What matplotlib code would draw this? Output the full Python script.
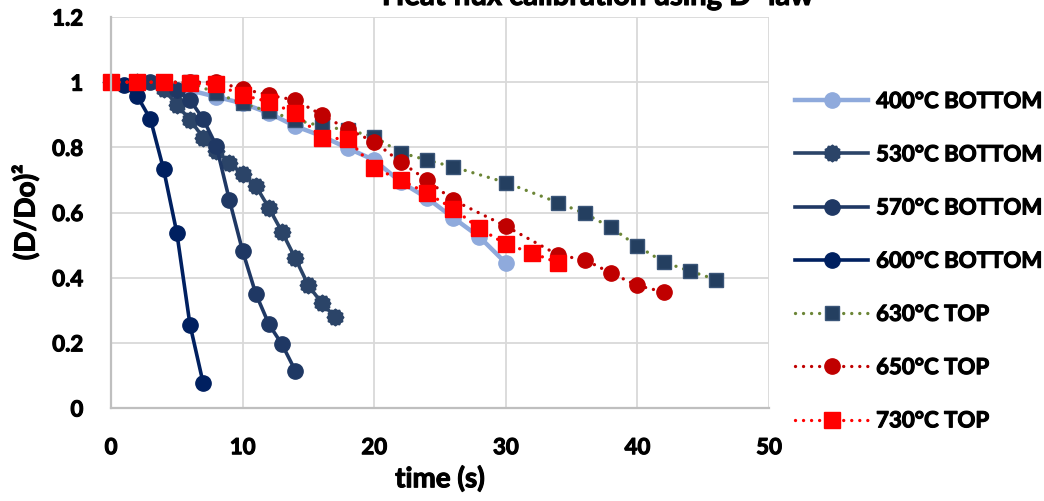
import matplotlib
matplotlib.use("Agg")
import matplotlib.pyplot as plt
import matplotlib.patheffects as pe
from matplotlib.path import Path
import numpy as np

# ---- data: normalised squared droplet diameter vs time ----
t_400 = [0, 2, 4, 6, 8, 10, 12, 14, 16, 18, 20, 22, 24, 26, 28, 30]
d_400 = [1.0, 0.997, 0.985, 0.975, 0.955, 0.935, 0.905, 0.865, 0.835, 0.797,
         0.761, 0.694, 0.645, 0.584, 0.525, 0.445]

t_530 = [0, 2, 4, 5, 6, 7, 8, 9, 10, 11, 12, 13, 14, 15, 16, 17]
d_530 = [1.0, 1.0, 0.98, 0.93, 0.885, 0.83, 0.79, 0.753, 0.717, 0.682,
         0.614, 0.54, 0.46, 0.376, 0.323, 0.28]

t_570 = [0, 3, 5, 6, 7, 8, 9, 10, 11, 12, 13, 14]
d_570 = [1.0, 1.0, 0.977, 0.946, 0.887, 0.805, 0.638, 0.482, 0.351, 0.257,
         0.195, 0.115]

t_600 = [0, 1, 2, 3, 4, 5, 6, 7]
d_600 = [1.0, 0.99, 0.957, 0.886, 0.732, 0.538, 0.256, 0.077]

t_630 = [0, 2, 4, 6, 8, 10, 12, 14, 16, 18, 20, 22, 24, 26, 30, 34, 36, 38,
         40, 42, 44, 46]
d_630 = [1.0, 1.0, 1.0, 1.0, 0.966, 0.935, 0.91, 0.885, 0.865, 0.853, 0.833,
         0.784, 0.761, 0.74, 0.692, 0.63, 0.597, 0.554, 0.497, 0.448, 0.42,
         0.394]

t_650 = [0, 2, 4, 6, 8, 10, 12, 14, 16, 18, 20, 22, 24, 26, 30, 34, 36, 38,
         40, 42]
d_650 = [1.0, 1.0, 1.0, 1.0, 1.0, 0.98, 0.96, 0.945, 0.9, 0.855, 0.817,
         0.755, 0.70, 0.638, 0.558, 0.469, 0.455, 0.414, 0.376, 0.356]

t_730 = [0, 2, 4, 6, 8, 10, 12, 14, 16, 18, 20, 22, 24, 26, 28, 30, 32, 34]
d_730 = [1.0, 1.0, 1.0, 0.997, 0.993, 0.96, 0.94, 0.905, 0.83, 0.825, 0.737,
         0.70, 0.66, 0.612, 0.551, 0.503, 0.476, 0.445]

labels = ["400°C BOTTOM", "530°C BOTTOM", "570°C BOTTOM", "600°C BOTTOM",
          "630°C TOP", "650°C TOP", "730°C TOP"]

x_ticks = [0, 10, 20, 30, 40, 50]
y_ticks = [0, 0.2, 0.4, 0.6, 0.8, 1.0, 1.2]
y_tick_labels = ["0", "0.2", "0.4", "0.6", "0.8", "1", "1.2"]

# ---- style ----
plt.rcParams["font.family"] = ["Lato", "DejaVu Sans"]
plt.rcParams["font.weight"] = "bold"
FS = 16          # tick labels and legend
FS_AX = 20       # axis titles
heavy = [pe.withStroke(linewidth=0.8, foreground="black")]

# gear-shaped marker
n_teeth = 12
ang = np.linspace(0, 2 * np.pi, 2 * n_teeth, endpoint=False)
rad = np.where(np.arange(2 * n_teeth) % 2 == 0, 1.0, 0.86)
verts = np.column_stack([rad * np.cos(ang), rad * np.sin(ang)])
verts = np.vstack([verts, verts[:1]])
codes = [Path.MOVETO] + [Path.LINETO] * (len(verts) - 2) + [Path.CLOSEPOLY]
gear = Path(verts, codes)

dot = (0, (0.01, 2.4))

series = [
    dict(t=t_400, d=d_400, color="#8FAADC", lw=3.2, ls="-", marker="o",
         ms=11, mfc="#8FAADC", mec="#8FAADC"),
    dict(t=t_530, d=d_530, color="#2B4468", lw=2.6, ls="-", marker=gear,
         ms=12, mfc="#2B4468", mec="#2B4468"),
    dict(t=t_570, d=d_570, color="#1F3864", lw=2.6, ls="-", marker="o",
         ms=11, mfc="#1F3864", mec="#1F3864"),
    dict(t=t_600, d=d_600, color="#002060", lw=2.6, ls="-", marker="o",
         ms=11, mfc="#002060", mec="#002060"),
    dict(t=t_630, d=d_630, color="#6B8536", lw=2.4, ls=dot, marker="s",
         ms=10.5, mfc="#243F60", mec="#3A5578"),
    dict(t=t_650, d=d_650, color="#C00000", lw=2.4, ls=dot, marker="o",
         ms=11, mfc="#C00000", mec="#C00000"),
    dict(t=t_730, d=d_730, color="#FF0000", lw=2.4, ls=dot, marker="s",
         ms=11, mfc="#FF0000", mec="#FF0000"),
]

fig = plt.figure(figsize=(10.44, 5.02), dpi=100)
ax = fig.add_axes([111 / 1044, 1 - 409 / 502, (769 - 111) / 1044, (409 - 18) / 502])

handles = []
for s, lab in zip(series, labels):
    ln, = ax.plot(s["t"], s["d"], color=s["color"], lw=s["lw"], linestyle=s["ls"],
                  dash_capstyle="round", marker=s["marker"], markersize=s["ms"],
                  markerfacecolor=s["mfc"], markeredgecolor=s["mec"],
                  markeredgewidth=1.0, clip_on=False, label=lab)
    handles.append(ln)

ax.set_xlim(0, 50)
ax.set_ylim(0, 1.2)
ax.set_xticks(x_ticks)
ax.set_xticklabels([str(v) for v in x_ticks])
ax.set_yticks(y_ticks)
ax.set_yticklabels(y_tick_labels)
ax.tick_params(axis="both", length=0, labelsize=FS)
ax.tick_params(axis="y", pad=20)
ax.tick_params(axis="x", pad=21)
for lab in ax.get_xticklabels() + ax.get_yticklabels():
    lab.set_fontweight("bold")
    lab.set_path_effects(heavy)

ax.grid(True, color="#D9D9D9", linewidth=1.3)
ax.set_axisbelow(True)
for side in ("top", "right"):
    ax.spines[side].set_visible(False)
for side in ("left", "bottom"):
    ax.spines[side].set_color("#BFBFBF")
    ax.spines[side].set_linewidth(1.6)

xl = ax.set_xlabel("time (s)", fontsize=FS_AX, fontweight="bold", labelpad=5)
yl = ax.set_ylabel("(D/Do)²", fontsize=FS_AX, fontweight="bold", labelpad=9)
xl.set_path_effects(heavy)
yl.set_path_effects(heavy)

fig.text(598 / 1044, 1 - 6 / 502, "Heat flux calibration using D² law",
         ha="center", va="baseline", fontsize=21, fontweight="bold",
         path_effects=heavy)

leg = fig.legend(handles=handles, loc="upper left",
                 bbox_to_anchor=(795 / 1044, 1 - 92 / 502),
                 frameon=False, handlelength=3.3, handletextpad=0.35,
                 labelspacing=1.45, borderaxespad=0, borderpad=0, numpoints=1,
                 prop=dict(size=FS, weight="bold"))
for txt in leg.get_texts():
    txt.set_path_effects(heavy)

fig.savefig("out.png", dpi=100)
